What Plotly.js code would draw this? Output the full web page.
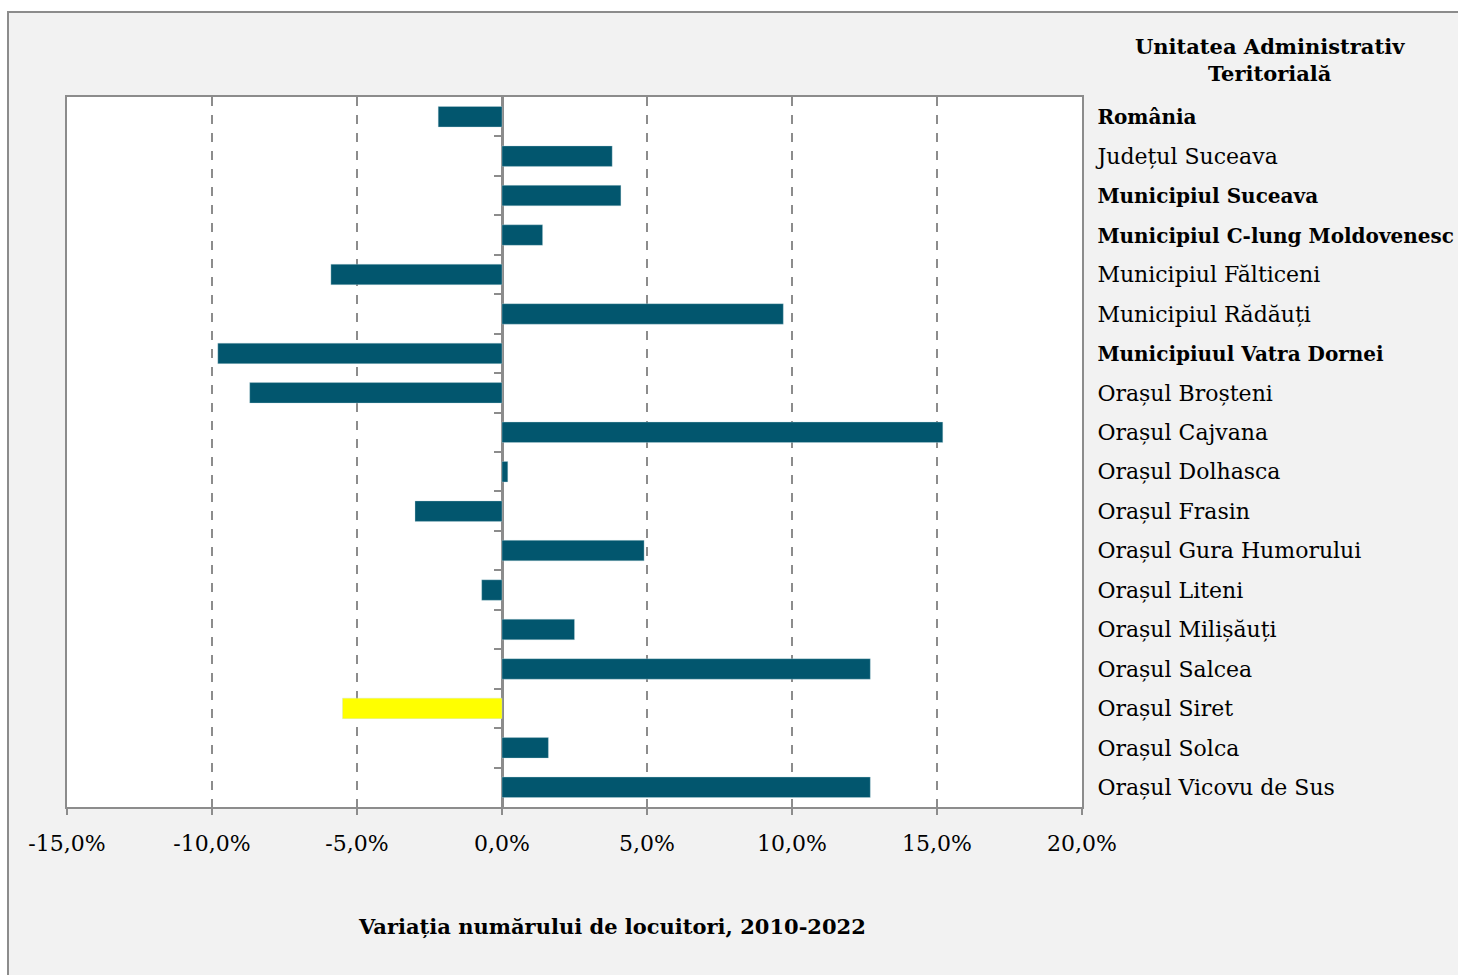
<!DOCTYPE html>
<html>
<head>
<meta charset="utf-8">
<script src="https://cdn.plot.ly/plotly-3.0.1.min.js"></script>
<style>
  html, body { margin: 0; padding: 0; background: #ffffff; overflow: hidden; width: 1458px; height: 975px; }
  #frame { position: absolute; left: 7px; top: 11px; border-left: 2px solid #8c8c8c; border-top: 2px solid #8c8c8c; width: 1449px; height: 962px; }
  #chart { width: 1449px; height: 962px; }
</style>
</head>
<body>
<div id="frame"><div id="chart"></div></div>
<script>
// ---- data ----
const categories = [
  "România",
  "Județul Suceava",
  "Municipiul Suceava",
  "Municipiul C-lung Moldovenesc",
  "Municipiul Fălticeni",
  "Municipiul Rădăuți",
  "Municipiuul Vatra Dornei",
  "Orașul Broșteni",
  "Orașul Cajvana",
  "Orașul Dolhasca",
  "Orașul Frasin",
  "Orașul Gura Humorului",
  "Orașul Liteni",
  "Orașul Milișăuți",
  "Orașul Salcea",
  "Orașul Siret",
  "Orașul Solca",
  "Orașul Vicovu de Sus"
];
const variation = [
  -2.2, 3.8, 4.1, 1.4, -5.9, 9.7, -9.8, -8.7, 15.2, 0.2,
  -3.0, 4.9, -0.7, 2.5, 12.7, -5.5, 1.6, 12.7
];
const boldCategories = [
  "România", "Municipiul Suceava", "Municipiul C-lung Moldovenesc", "Municipiuul Vatra Dornei"
];
const highlightCategory = "Orașul Siret";
const xTickValues = [-15, -10, -5, 0, 5, 10, 15, 20];
const xTickLabels = ["-15,0%", "-10,0%", "-5,0%", "0,0%", "5,0%", "10,0%", "15,0%", "20,0%"];
const xAxisTitle = "Variația numărului de locuitori, 2010-2022";
const legendHeader = "Unitatea Administrativ<br>Teritorială";

// ---- styling ----
const FONT = "DejaVu Serif";
const barColor = "#02566e";
const highlightColor = "#ffff00";
const axisGrey = "#8c8c8c";

const barColors = categories.map(c => c === highlightCategory ? highlightColor : barColor);
const tickText = categories.map(c => boldCategories.includes(c)
  ? "<span style=\"font-size:20px\"><b>" + c + "</b></span>" : c);
const catIndex = categories.map((_, i) => i);
const boundaries = categories.slice(1).map((_, i) => i + 0.5);
const nCat = categories.length;
const xMin = xTickValues[0], xMax = xTickValues[xTickValues.length - 1];

const traces = [
  {
    type: "bar",
    orientation: "h",
    x: variation,
    y: categories,
    marker: { color: barColors, line: { color: "rgba(200,220,228,0.6)", width: 0.6 } },
    width: 0.52,
    hoverinfo: "x+y"
  },
  {
    // invisible helper trace so the category-boundary tick axis at 0 is drawn
    type: "scatter",
    mode: "markers",
    x: variation,
    y: catIndex,
    yaxis: "y2",
    marker: { opacity: 0, size: 1 },
    hoverinfo: "skip",
    showlegend: false
  }
];

const layout = {
  width: 1449,
  height: 962,
  margin: { l: 58, r: 376, t: 84, b: 168 },
  paper_bgcolor: "#f2f2f2",
  plot_bgcolor: "#ffffff",
  showlegend: false,
  font: { family: FONT, size: 22, color: "#000000" },
  xaxis: {
    range: [xMin, xMax],
    tickvals: xTickValues,
    ticktext: xTickLabels,
    showgrid: true,
    gridcolor: axisGrey,
    griddash: "dash",
    gridwidth: 1.5,
    zeroline: true,
    zerolinecolor: axisGrey,
    zerolinewidth: 2.5,
    showline: true,
    mirror: true,
    linecolor: axisGrey,
    linewidth: 2,
    ticks: "outside",
    ticklen: 6,
    tickwidth: 2,
    tickcolor: axisGrey,
    tickfont: { family: FONT, size: 22, color: "#000000" },
    ticklabelstandoff: 10,
    fixedrange: true
  },
  yaxis: {
    type: "category",
    categoryorder: "array",
    categoryarray: categories,
    range: [nCat - 0.5, -0.5],
    side: "right",
    tickmode: "array",
    tickvals: categories,
    ticktext: tickText,
    ticks: "",
    ticklabelstandoff: 9,
    tickfont: { family: FONT, size: 22, color: "#000000" },
    showgrid: false,
    zeroline: false,
    showline: true,
    mirror: true,
    linecolor: axisGrey,
    linewidth: 2,
    fixedrange: true
  },
  yaxis2: {
    overlaying: "y",
    anchor: "free",
    position: (0 - xMin) / (xMax - xMin),
    side: "left",
    range: [nCat - 0.5, -0.5],
    tickmode: "array",
    tickvals: boundaries,
    showticklabels: false,
    ticks: "outside",
    ticklen: 8,
    tickwidth: 2,
    tickcolor: axisGrey,
    showgrid: false,
    zeroline: false,
    showline: false,
    fixedrange: true
  },
  annotations: [
    {
      text: "<b>" + legendHeader + "</b>",
      xref: "paper", yref: "paper",
      x: 1.185, y: 1.052,
      xanchor: "center", yanchor: "middle",
      showarrow: false,
      font: { family: FONT, size: 21, color: "#000000" }
    },
    {
      text: "<b>" + xAxisTitle + "</b>",
      xref: "paper", yref: "paper",
      x: 0.537, y: -0.169,
      xanchor: "center", yanchor: "middle",
      showarrow: false,
      font: { family: FONT, size: 21, color: "#000000" }
    }
  ]
};

Plotly.newPlot("chart", traces, layout, { displayModeBar: false });
</script>
</body>
</html>
